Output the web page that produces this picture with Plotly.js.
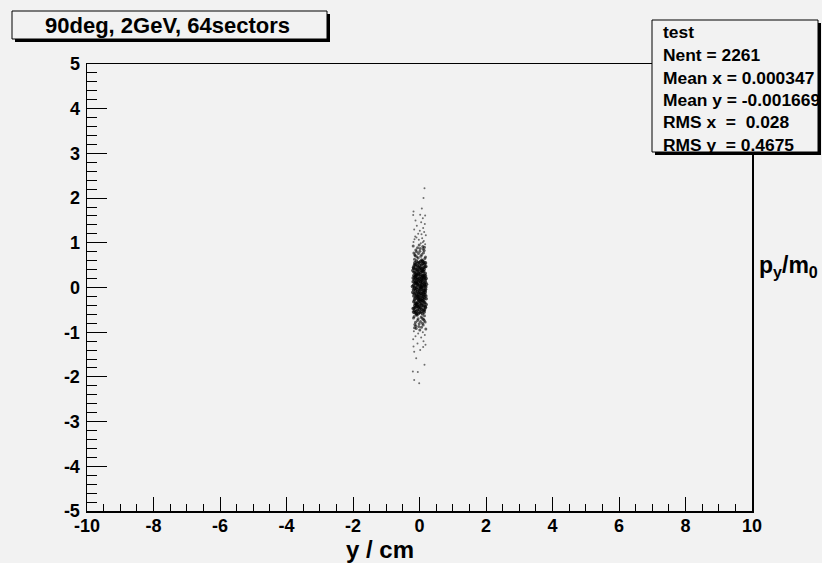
<!DOCTYPE html>
<html>
<head>
<meta charset="utf-8">
<script src="https://cdn.plot.ly/plotly-3.0.1.min.js"></script>
<style>html,body{margin:0;padding:0;background:#f2f2f2;}#chart{width:822px;height:563px;}</style>
</head>
<body>
<div id="chart"></div>
<script>
// ---- data: (x, y) pairs ----
const coreInner = [
[0.05,0.02],[-0.12,0.11],[0.17,-0.07],[-0.03,-0.21],[0.09,0.27],[-0.18,0.05],[0.02,-0.13],[0.13,0.19],[-0.07,0.08],[0.20,-0.25],
[-0.15,-0.02],[0.07,-0.29],[-0.01,0.15],[0.11,0.04],[-0.09,-0.17],[0.15,0.23],[-0.05,0.29],[0.03,-0.05],[-0.20,-0.11],[0.18,0.12],
[0.00,0.21],[-0.11,0.26],[0.06,-0.18],[-0.16,0.17],[0.12,-0.12],[-0.04,-0.27],[0.19,0.01],[-0.08,0.00],[0.04,0.09],[-0.13,-0.24],
[0.10,-0.02],[-0.02,0.05],[0.16,-0.16],[-0.19,0.21],[0.08,0.16],[-0.06,-0.09],[0.14,0.28],[-0.10,0.14],[0.01,-0.22],[0.21,0.07],
[-0.14,0.09],[0.09,-0.09],[-0.03,0.19],[0.12,0.24],[-0.17,-0.19],[0.05,-0.14],[-0.08,0.22],[0.18,-0.04],[-0.01,-0.03],[0.03,0.13],
[-0.12,-0.07],[0.15,0.06],[-0.05,-0.25],[0.07,0.20],[-0.21,0.02],[0.11,-0.20],[-0.09,0.28],[0.02,0.25],[0.17,0.17],[-0.15,-0.28],
[0.06,0.00],[-0.04,0.12],[0.13,-0.27],[-0.11,-0.13],[0.00,-0.08],[0.19,-0.19],[-0.07,0.18],[0.08,-0.24],[-0.18,-0.05],[0.14,0.10],
[-0.02,-0.16],[0.10,0.26],[-0.14,0.24],[0.04,-0.01],[-0.10,-0.21],[0.16,0.03],[-0.06,0.06],[0.01,0.29],[0.20,0.20],[-0.16,-0.14],
[0.07,0.07],[-0.13,0.01],[0.12,-0.06],[-0.00,-0.29],[0.17,-0.11],[-0.08,-0.04],[0.05,0.17],[-0.19,0.13],[0.09,0.12],[-0.03,-0.12],
[0.14,-0.22],[-0.12,0.20],[0.02,0.03],[-0.06,-0.19],[0.18,0.26],[-0.09,0.10],[0.11,-0.15],[-0.17,0.27],[0.03,-0.26],[0.08,0.23]
];
const coreMid = [
[0.04,0.33],[-0.11,0.41],[0.15,0.52],[-0.06,0.37],[0.09,0.58],[-0.18,0.45],[0.01,0.49],[0.12,0.36],[-0.14,0.55],[0.07,0.43],
[-0.03,0.31],[0.19,0.47],[-0.09,0.59],[0.05,0.39],[-0.16,0.34],[0.10,0.53],[-0.01,0.56],[0.14,0.40],[-0.07,0.48],[0.17,0.32],
[-0.12,0.51],[0.02,0.44],[-0.20,0.38],[0.08,0.35],[-0.05,0.54],[0.13,0.57],[-0.10,0.30],[0.00,0.42],[0.16,0.46],[-0.15,0.50],
[0.06,0.51],[-0.08,0.40],[0.11,0.44],[-0.02,0.36],[0.18,0.55],[-0.13,0.33],[0.03,0.58],[-0.17,0.43],[0.09,0.38],[-0.04,0.46],
[-0.05,-0.33],[0.12,-0.41],[-0.15,-0.52],[0.06,-0.37],[-0.09,-0.58],[0.18,-0.45],[-0.01,-0.49],[-0.12,-0.36],[0.14,-0.55],[-0.07,-0.43],
[0.03,-0.31],[-0.19,-0.47],[0.09,-0.59],[-0.05,-0.39],[0.16,-0.34],[-0.10,-0.53],[0.01,-0.56],[-0.14,-0.40],[0.07,-0.48],[-0.17,-0.32],
[0.12,-0.51],[-0.02,-0.44],[0.20,-0.38],[-0.08,-0.35],[0.05,-0.54],[-0.13,-0.57],[0.10,-0.30],[0.00,-0.42],[-0.16,-0.46],[0.15,-0.50],
[-0.06,-0.51],[0.08,-0.40],[-0.11,-0.44],[0.02,-0.36],[-0.18,-0.55],[0.13,-0.33],[-0.03,-0.58],[0.17,-0.43],[-0.09,-0.38],[0.04,-0.46]
];
const coreOuter = [
[0.06,0.62],[-0.13,0.71],[0.14,0.83],[-0.04,0.66],[0.10,0.92],[-0.17,0.77],[0.02,0.87],[0.18,0.68],[-0.09,0.80],[0.07,0.74],
[-0.01,0.95],[-0.15,0.63],[0.12,0.78],[-0.06,0.89],[0.16,0.65],[-0.11,0.84],[0.04,0.70],[-0.19,0.93],[0.09,0.61],[-0.03,0.76],
[0.11,0.86],[-0.08,0.69],[0.01,0.81],[0.15,0.90],[-0.14,0.73],
[-0.07,-0.62],[0.12,-0.71],[-0.14,-0.83],[0.05,-0.66],[-0.10,-0.92],[0.17,-0.77],[-0.02,-0.87],[-0.18,-0.68],[0.09,-0.80],[-0.06,-0.74],
[0.01,-0.95],[0.15,-0.63],[-0.12,-0.78],[0.06,-0.89],[-0.16,-0.65],[0.11,-0.84],[-0.04,-0.70],[0.19,-0.93],[-0.09,-0.61],[0.03,-0.76],
[-0.11,-0.86],[0.08,-0.69],[-0.01,-0.81],[-0.15,-0.90],[0.14,-0.73]
];
const tailTop = [
[0.15,2.22],[0.12,2.00],[0.07,1.77],[-0.18,1.70],[-0.19,1.62],[0.02,1.63],[0.17,1.61],[0.10,1.55],[-0.12,1.50],[0.05,1.46],
[0.16,1.42],[-0.08,1.38],[0.11,1.33],[-0.16,1.30],[0.01,1.27],[0.14,1.24],[-0.04,1.20],[0.19,1.17],[-0.13,1.14],[0.08,1.10],
[-0.02,1.07],[0.13,1.04],[-0.18,1.02],[0.04,0.99],[0.17,0.97],[-0.09,1.12],[0.06,1.19],[-0.15,1.08],[0.10,1.01]
];
const tailBottom = [
[-0.17,-0.98],[0.10,-1.00],[-0.04,-1.03],[0.16,-1.06],[-0.12,-1.09],[0.05,-1.12],[-0.19,-1.16],[0.12,-1.20],[-0.06,-1.25],[0.18,-1.28],
[-0.18,-1.32],[0.11,-1.33],[-0.16,-1.44],[0.02,-1.40],[-0.10,-1.58],[0.15,-1.73],[-0.20,-1.88],[-0.05,-1.89],[-0.16,-2.07],[-0.01,-2.14]
];
const titleText = "90deg, 2GeV, 64sectors";
const statsLines = ["test", "Nent = 2261", "Mean x = 0.000347", "Mean y = -0.001669", "RMS x\u00a0 = \u00a00.028", "RMS y\u00a0 = 0.4675"];
const xTitle = "y / cm";
const yTitle = "p<sub>y</sub>/m<sub>0</sub>";
const xTickVals = [-10, -8, -6, -4, -2, 0, 2, 4, 6, 8, 10];
const xTickText = ["-10", "-8", "-6", "-4", "-2", "0", "2", "4", "6", "8", "10"];
const yTickVals = [-5, -4, -3, -2, -1, 0, 1, 2, 3, 4, 5];
const yTickText = ["-5", "-4", "-3", "-2", "-1", "0", "1", "2", "3", "4", "5"];
const xRange = [-10, 10];
const yRange = [-5, 5];

// ---- layout helpers (pixel -> paper) ----
const L = 87, R = 752, T = 64, B = 511;
const W = 822, H = 563;
const px = v => (v - L) / (R - L);
const py = v => (B - v) / (B - T);

const dense = coreInner.concat(coreMid);
const tails = tailTop.concat(tailBottom);
const FONT = "Liberation Sans, Arial, Helvetica, sans-serif";
const BG = "#f2f2f2";

const traces = [
  {type: "scatter", mode: "markers", x: dense.map(p => p[0]), y: dense.map(p => p[1]),
   marker: {size: 3.6, color: "#000", opacity: 0.7, line: {width: 0}}, hoverinfo: "skip", showlegend: false},
  {type: "scatter", mode: "markers", x: coreOuter.map(p => p[0]), y: coreOuter.map(p => p[1]),
   marker: {size: 3, color: "#000", opacity: 0.6, line: {width: 0}}, hoverinfo: "skip", showlegend: false},
  {type: "scatter", mode: "markers", x: tails.map(p => p[0]), y: tails.map(p => p[1]),
   marker: {size: 2, color: "#000", opacity: 0.55, line: {width: 0}}, hoverinfo: "skip", showlegend: false}
];

function rect(x0, y0, x1, y1, fill, lw) {
  return {type: "rect", xref: "paper", yref: "paper", x0: px(x0), x1: px(x1), y0: py(y1), y1: py(y0),
    fillcolor: fill, line: {color: "#000", width: lw}, layer: "above"};
}

const shapes = [
  rect(15, 14, 330, 42, "#000", 0),
  rect(12, 11, 327, 39, BG, 1),
  rect(655, 23, 821, 155, "#000", 0),
  rect(652, 20, 818, 152, BG, 1)
];

const annotations = [
  {xref: "paper", yref: "paper", x: px(167.5), y: py(25), text: titleText, showarrow: false,
   xanchor: "center", yanchor: "middle", font: {family: FONT, size: 22, weight: 700, color: "#000"}},
  {xref: "paper", yref: "paper", x: px(380), y: py(549), text: xTitle, showarrow: false,
   xanchor: "center", yanchor: "middle", font: {family: FONT, size: 24, weight: 700, color: "#000"}},
  {xref: "paper", yref: "paper", x: px(757), y: py(266), text: yTitle, showarrow: false,
   xanchor: "left", yanchor: "middle", font: {family: FONT, size: 23, weight: 700, color: "#000"}}
];
const statsY = [32, 55, 78, 100, 122, 145];
statsLines.forEach((s, i) => annotations.push({
  xref: "paper", yref: "paper", x: px(661), y: py(statsY[i]), text: s, showarrow: false,
  xanchor: "left", yanchor: "middle", font: {family: FONT, size: 17.4, weight: 700, color: "#000"}
}));

const tickFont = {family: FONT, size: 18, weight: 700, color: "#000"};
const layout = {
  width: W, height: H,
  margin: {l: L, r: W - R, t: T, b: H - B, pad: 0},
  paper_bgcolor: BG, plot_bgcolor: BG,
  showlegend: false,
  xaxis: {range: xRange, tickmode: "array", tickvals: xTickVals, ticktext: xTickText,
    ticks: "inside", ticklen: 14, tickwidth: 1, tickcolor: "#000",
    minor: {tickmode: "linear", tick0: -10, dtick: 0.5, ticks: "inside", ticklen: 7, tickwidth: 1, tickcolor: "#000", showgrid: false},
    showgrid: false, zeroline: false, showline: true, linecolor: "#000", linewidth: 1.5, mirror: true,
    tickfont: tickFont, ticklabelstandoff: -2, fixedrange: true},
  yaxis: {range: yRange, tickmode: "array", tickvals: yTickVals, ticktext: yTickText,
    ticks: "inside", ticklen: 20, tickwidth: 1, tickcolor: "#000",
    minor: {tickmode: "linear", tick0: -5, dtick: 0.2, ticks: "inside", ticklen: 10, tickwidth: 1, tickcolor: "#000", showgrid: false},
    showgrid: false, zeroline: false, showline: true, linecolor: "#000", linewidth: 1.5, mirror: true,
    tickfont: tickFont, ticklabelstandoff: 2, fixedrange: true},
  shapes: shapes,
  annotations: annotations
};

Plotly.newPlot("chart", traces, layout, {staticPlot: true, displayModeBar: false});
</script>
</body>
</html>
